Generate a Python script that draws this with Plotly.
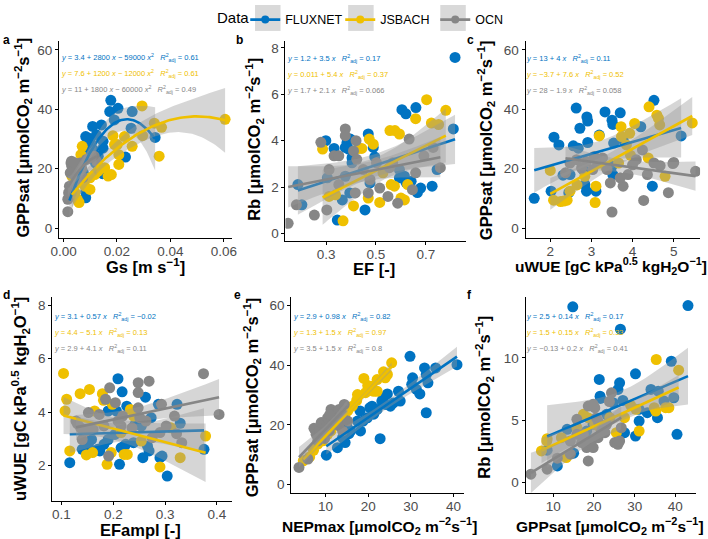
import numpy as np
import plotly.graph_objects as go

FONT = "Liberation Sans, Arial, sans-serif"
W, H = 708, 539
GROUPS = ["FLUXNET", "JSBACH", "OCN"]
COLORS = ["#0073C2", "#EFC000", "#868686"]
BAND = "rgba(153,153,153,0.4)"

# ---- panel a : Gs vs GPPsat (quadratic fits)
a_flux_x = [0.0177, 0.0173, 0.0204, 0.0257, 0.019, 0.0109, 0.0142, 0.0083, 0.0093, 0.0123, 0.0253, 0.0102, 0.0086,
            0.0111, 0.0148, 0.0148, 0.0130, 0.0093, 0.0074, 0.0120, 0.0232, 0.0343, 0.0146, 0.0083, 0.0083, 0.0062,
            0.0056, 0.0043, 0.0074, 0.0031, 0.0115, 0.0101, 0.0022]
a_flux_y = [43, 39.2, 40.3, 39.2, 36.4, 34.2, 34.7, 30.8, 30.3, 31.4, 33.6, 28.6, 28.1, 26.4, 26.9, 29.2, 24.2, 25.3,
            22.5, 21.9, 23.9, 30.5, 18.3, 12.2, 10.2, 19.7, 17.5, 15.8, 18.6, 14.1, 23.6, 26.4, 11.5]
a_jsb_x = [0.0294, 0.0605, 0.034, 0.0367, 0.0296, 0.0228, 0.0185, 0.0191, 0.0201, 0.0257, 0.0207, 0.0358, 0.0207,
           0.0154, 0.0179, 0.013, 0.0117, 0.0099, 0.0074, 0.0070, 0.0065, 0.0058, 0.0051, 0.0043, 0.0099, 0.0031,
           0.008, 0.0167]
a_jsb_y = [41.1, 36.6, 35.3, 33.9, 31.1, 30.8, 31.1, 28.1, 28.1, 27.5, 24.7, 24.2, 21.4, 20.3, 18.0, 19.2, 18.0, 16.9,
           16.4, 27.5, 24.7, 8.6, 9.7, 11.9, 13.0, 17.5, 14.1, 17.5]
a_ocn_x = [0.0016, 0.0016, 0.0019, 0.0022, 0.0028, 0.0031, 0.0037, 0.0043, 0.0025, 0.0043, 0.0056, 0.005, 0.0062,
           0.0086, 0.0115, 0.0123, 0.003, 0.0035, 0.004, 0.0068, 0.0072, 0.0048]
a_ocn_y = [5.5, 9.7, 11.9, 14.1, 21.9, 20.8, 21.9, 19.7, 18.6, 17.5, 18.6, 20.8, 21.9, 23.1, 24.2, 22.5, 22.5, 19.0,
           22.0, 20.0, 17.0, 16.0]
a_coef = [[3.4, 2800, -59000], [7.6, 1200, -12000], [11, 1800, -60000]]
a_eq = ["<i>y</i> = 3.4 + 2800 <i>x</i> − 59000 <i>x</i><sup>2</sup>", "<i>y</i> = 7.6 + 1200 <i>x</i> − 12000 <i>x</i><sup>2</sup>",
        "<i>y</i> = 11 + 1800 <i>x</i> − 60000 <i>x</i><sup>2</sup>"]
a_r2 = ["0.61", "0.61", "0.49"]

# ---- panel b : EF vs Rb
b_flux_x = [0.817, 0.604, 0.620, 0.660, 0.299, 0.332, 0.377, 0.384, 0.397, 0.469, 0.404, 0.390, 0.489, 0.495, 0.594,
            0.614, 0.641, 0.620, 0.594, 0.679, 0.666, 0.725, 0.745, 0.810, 0.377, 0.395, 0.365, 0.305, 0.345, 0.456,
            0.187, 0.203, 0.476, 0.404]
b_flux_y = [7.59, 5.34, 5.16, 5.43, 4.0, 3.67, 3.71, 3.93, 4.07, 4.29, 3.27, 3.64, 3.71, 3.30, 2.76, 2.47, 2.25, 2.21,
            2.40, 1.96, 1.77, 2.04, 2.76, 4.51, 2.47, 1.75, 1.45, 2.4, 0.58, 1.02, 2.11, 1.24, 2.18, 3.05]
b_jsb_x = [0.703, 0.780, 0.659, 0.722, 0.751, 0.556, 0.576, 0.594, 0.473, 0.489, 0.430, 0.443, 0.286, 0.561, 0.574,
           0.627, 0.600, 0.614, 0.515, 0.469, 0.410, 0.368, 0.338, 0.312, 0.528]
b_jsb_y = [5.77, 5.31, 4.95, 4.76, 4.70, 4.44, 4.44, 4.29, 4.07, 3.85, 3.67, 3.67, 3.64, 2.11, 2.04, 2.11, 1.53, 1.45,
           1.34, 1.53, 1.19, 0.55, 1.67, 1.60, 2.62]
b_ocn_x = [0.148, 0.181, 0.253, 0.303, 0.279, 0.332, 0.351, 0.377, 0.377, 0.410, 0.420, 0.423, 0.449, 0.351, 0.417,
           0.469, 0.476, 0.515, 0.548, 0.587, 0.567, 0.646, 0.659, 0.692, 0.729, 0.758, 0.633, 0.554, 0.312, 0.502]
b_ocn_y = [0.44, 1.24, 0.80, 1.02, 3.93, 3.35, 3.35, 4.51, 4.22, 3.56, 4.0, 3.20, 2.76, 2.11, 1.75, 1.75, 2.33, 1.96,
           1.60, 1.31, 3.05, 1.89, 2.62, 3.35, 3.71, 2.84, 4.07, 2.84, 2.76, 3.05]
b_coef = [[1.2, 3.5], [0.011, 5.4], [1.7, 2.1]]
b_eq = ["<i>y</i> = 1.2 + 3.5 <i>x</i>", "<i>y</i> = 0.011 + 5.4 <i>x</i>", "<i>y</i> = 1.7 + 2.1 <i>x</i>"]
b_r2 = ["0.17", "0.37", "0.066"]

# ---- panel c : uWUE vs GPPsat
c_flux_x = [1.61, 2.09, 2.02, 2.31, 2.48, 2.45, 2.56, 2.63, 2.68, 2.72, 2.89, 2.91, 2.91, 2.80, 2.84, 2.88, 3.11, 3.19,
            3.33, 3.50, 3.52, 3.54, 3.70, 3.77, 3.50, 3.52, 4.20, 4.52, 4.48, 5.18, 2.21]
c_flux_y = [10.0, 30.6, 12.4, 17.8, 18.0, 11.9, 27.7, 40.4, 26.9, 33.6, 37.4, 36.0, 28.8, 19.7, 14.7, 12.4, 12.4, 31.3,
            39.1, 36.3, 34.9, 28.6, 38.8, 29.7, 20.8, 18.0, 34.1, 43.0, 14.1, 31.0, 28.0]
c_jsb_x = [2.0, 2.08, 2.25, 2.33, 2.41, 2.48, 2.84, 3.09, 3.11, 3.19, 3.72, 3.73, 3.85, 3.93, 4.05, 4.40, 4.59, 4.63,
           4.66, 4.38, 5.45, 4.79, 3.66, 3.35, 2.65, 3.95]
c_jsb_y = [19.4, 9.4, 8.9, 9.1, 9.4, 12.4, 17.4, 8.6, 14.1, 31.0, 34.1, 30.8, 28.0, 31.9, 35.2, 40.8, 38.0, 36.9, 34.7,
           23.6, 35.4, 17.4, 21.9, 20.5, 14.5, 24.5]
c_ocn_x = [3.50, 4.27, 4.87, 4.67, 4.98, 5.0, 5.53, 4.36, 4.24, 4.0, 3.89, 3.77, 3.70, 3.46, 3.38, 3.27, 3.15, 3.07,
           3.03, 2.88, 2.76, 2.64, 2.48, 2.37, 4.09, 4.52]
c_ocn_y = [5.4, 9.3, 11.9, 21.0, 21.7, 22.1, 19.1, 18.0, 26.3, 21.3, 18.0, 14.1, 16.9, 15.2, 19.7, 23.6, 21.9, 24.1,
           19.7, 22.4, 20.2, 23.0, 21.9, 18.6, 23.0, 21.9]
c_coef = [[13, 4], [-3.7, 7.6], [28, -1.9]]
c_eq = ["<i>y</i> = 13 + 4 <i>x</i>", "<i>y</i> = −3.7 + 7.6 <i>x</i>", "<i>y</i> = 28 − 1.9 <i>x</i>"]
c_r2 = ["0.11", "0.52", "0.058"]

# ---- panel d : EFampl vs uWUE
d_flux_x = [0.116, 0.14, 0.152, 0.158, 0.170, 0.174, 0.182, 0.190, 0.190, 0.206, 0.209, 0.217, 0.212, 0.215, 0.221,
            0.224, 0.226, 0.239, 0.242, 0.248, 0.254, 0.257, 0.262, 0.266, 0.269, 0.273, 0.287, 0.29, 0.294, 0.304,
            0.323, 0.329, 0.375, 0.203]
d_flux_y = [2.1, 2.6, 2.72, 2.97, 2.6, 2.54, 2.79, 4.04, 2.97, 4.04, 5.25, 4.76, 2.04, 2.66, 2.72, 2.79, 4.22, 2.85,
            3.54, 3.54, 3.47, 2.29, 4.56, 2.72, 2.54, 3.79, 4.29, 2.29, 2.35, 1.6, 4.29, 3.58, 2.6, 3.16]
d_jsb_x = [0.104, 0.110, 0.107, 0.116, 0.136, 0.154, 0.148, 0.160, 0.164, 0.179, 0.181, 0.188, 0.196, 0.198, 0.215,
           0.221, 0.227, 0.233, 0.239, 0.254, 0.29, 0.311, 0.329, 0.378]
d_jsb_y = [5.45, 4.48, 4.04, 2.54, 4.69, 4.85, 2.39, 2.48, 4.04, 4.69, 4.44, 2.04, 2.48, 4.29, 3.23, 2.41, 2.41, 4.1,
           3.85, 2.91, 1.94, 3.41, 2.29, 3.1]
d_ocn_x = [0.374, 0.404, 0.248, 0.248, 0.269, 0.293, 0.318, 0.322, 0.332, 0.193, 0.185, 0.204, 0.209, 0.218, 0.215,
           0.191, 0.152, 0.137, 0.131, 0.128, 0.140, 0.148, 0.161, 0.173, 0.182, 0.236, 0.248, 0.263, 0.275, 0.290,
           0.302, 0.251]
d_ocn_y = [5.44, 3.91, 5.1, 4.73, 5.16, 4.29, 3.85, 3.19, 2.85, 4.91, 4.48, 4.35, 3.66, 3.85, 3.48, 2.35, 3.98, 3.41,
           3.56, 3.66, 2.97, 3.29, 3.35, 3.91, 3.48, 3.41, 4.16, 3.66, 3.04, 3.23, 3.48, 3.79]
d_coef = [[3.1, 0.57], [4.4, -5.1], [2.9, 4.1]]
d_eq = ["<i>y</i> = 3.1 + 0.57 <i>x</i>", "<i>y</i> = 4.4 − 5.1 <i>x</i>", "<i>y</i> = 2.9 + 4.1 <i>x</i>"]
d_r2 = ["−0.02", "0.13", "0.11"]

# ---- panel e : NEPmax vs GPPsat
e_flux_x = [10.2, 12.8, 15.0, 15.5, 14.6, 15.9, 18.1, 18.2, 18.8, 20.4, 20.9, 21.3, 22.1, 22.8, 23.2, 23.6, 24.0, 24.5,
            25.2, 25.9, 27.1, 27.5, 29.8, 30.4, 30.2, 31.3, 32.1, 33.6, 33.2, 33.6, 34.0, 40.8, 35.8, 19.8, 17.5, 14.0]
e_flux_y = [9.9, 12.4, 19.7, 17.1, 14.1, 18.0, 24.7, 18.0, 21.3, 25.8, 26.3, 23.6, 25.2, 15.4, 28.0, 29.1, 26.9, 30.4,
            26.3, 27.4, 31.3, 28.0, 43.0, 35.8, 33.6, 31.9, 30.4, 24.1, 39.1, 36.9, 34.1, 40.2, 39.1, 22.4, 21.3, 15.8]
e_jsb_x = [4.8, 6.3, 8.2, 9.4, 10.5, 11.3, 12.8, 15.2, 16.3, 17.3, 19.0, 19.4, 19.9, 20.9, 21.3, 22.1, 23.6, 24.0, 24.5,
           25.5, 22.1, 17.5, 7.2, 13.8]
e_jsb_y = [8.0, 9.3, 13.6, 14.7, 16.9, 18.0, 21.3, 24.7, 26.3, 28.2, 35.6, 30.8, 33.2, 33.0, 31.3, 31.3, 37.8, 35.8,
           36.9, 40.8, 35.2, 30.2, 11.5, 22.5]
e_ocn_x = [3.8, 5.9, 7.3, 7.8, 8.6, 8.2, 9.0, 9.4, 10.2, 10.5, 11.3, 11.7, 12.1, 12.5, 13.2, 13.2, 13.6, 14.2, 14.4,
           15.2, 14.0, 10.9, 12.8, 11.0, 9.8, 13.8]
e_ocn_y = [5.8, 8.6, 18.9, 16.9, 18.0, 14.7, 20.8, 17.1, 19.7, 22.4, 25.2, 20.2, 24.1, 22.4, 25.2, 19.7, 23.6, 21.9,
           26.9, 21.3, 18.0, 18.0, 21.0, 23.5, 15.5, 24.0]
e_coef = [[2.9, 0.98], [1.3, 1.5], [3.5, 1.5]]
e_eq = ["<i>y</i> = 2.9 + 0.98 <i>x</i>", "<i>y</i> = 1.3 + 1.5 <i>x</i>", "<i>y</i> = 3.5 + 1.5 <i>x</i>"]
e_r2 = ["0.82", "0.97", "0.8"]

# ---- panel f : GPPsat vs Rb
f_flux_x = [14.8, 43.1, 26.5, 21.3, 26.3, 25.9, 30.2, 39.0, 21.5, 21.6, 24.7, 27.1, 31.1, 34.0, 35.8, 37.2, 39.6, 33.1,
            35.6, 31.1, 27.5, 30.2, 40.4, 8.5, 11.0, 15.0, 18.2, 19.8, 23.1, 13.4]
f_flux_y = [14.1, 14.2, 12.3, 8.27, 8.0, 7.47, 8.72, 9.73, 6.93, 6.75, 6.4, 6.59, 5.87, 7.47, 7.33, 6.53, 6.8, 5.6, 5.2,
            4.93, 4.0, 3.73, 3.87, 2.59, 1.33, 2.35, 4.13, 4.67, 5.47, 4.27]
f_jsb_x = [35.3, 40.8, 17.4, 8.4, 8.5, 7.1, 13.2, 20.2, 21.5, 23.9, 27.5, 30.3, 31.1, 34.8, 35.2, 37.6, 38.4, 15.8, 25.5,
           29.0, 12.0, 18.5]
f_jsb_y = [9.87, 9.01, 5.47, 3.33, 3.52, 2.53, 2.0, 4.67, 4.4, 5.2, 5.2, 5.87, 4.13, 6.0, 5.73, 6.0, 6.0, 4.4, 4.0, 6.2,
           3.6, 5.2]
f_ocn_x = [4.5, 8.5, 11.0, 18.6, 14.2, 15.8, 17.0, 18.2, 19.4, 19.8, 21.0, 21.9, 17.4, 18.6, 19.8, 20.2, 21.0, 22.7,
           23.1, 24.3, 25.1, 25.9, 26.3, 26.7, 15.8, 14.2, 20.6, 23.8]
f_ocn_y = [0.67, 1.07, 1.95, 1.73, 3.33, 3.87, 3.2, 2.8, 3.33, 2.8, 3.6, 4.13, 3.87, 6.13, 6.27, 6.0, 4.93, 4.0, 4.67,
           7.2, 3.2, 3.07, 3.33, 4.4, 5.07, 2.27, 5.2, 6.5]
f_coef = [[2.5, 0.14], [1.5, 0.15], [-0.13, 0.2]]
f_eq = ["<i>y</i> = 2.5 + 0.14 <i>x</i>", "<i>y</i> = 1.5 + 0.15 <i>x</i>", "<i>y</i> = −0.13 + 0.2 <i>x</i>"]
f_r2 = ["0.17", "0.33", "0.41"]

# tick values
a_xticks, a_yticks = [0, 0.02, 0.04, 0.06], [0, 20, 40, 60]
b_xticks, b_yticks = [0.3, 0.5, 0.7], [0, 2, 4, 6, 8]
c_xticks, c_yticks = [2, 3, 4, 5], [0, 20, 40, 60]
d_xticks, d_yticks = [0.1, 0.2, 0.3, 0.4], [2, 4, 6, 8]
e_xticks, e_yticks = [10, 20, 30, 40], [0, 20, 40, 60]
f_xticks, f_yticks = [10, 20, 30, 40], [0, 5, 10]

GPP = "GPPsat [μmolCO<sub>2</sub> m<sup>−2</sup>s<sup>−1</sup>]"
RB = "Rb [μmolCO<sub>2</sub> m<sup>−2</sup>s<sup>−1</sup>]"
UWUE = "uWUE [gC kPa<sup>0.5</sup> kgH<sub>2</sub>O<sup>−1</sup>]"

panels = [
    dict(tag="a", data=[(a_flux_x, a_flux_y), (a_jsb_x, a_jsb_y), (a_ocn_x, a_ocn_y)], coef=a_coef, eq=a_eq, r2=a_r2,
         box=(51, 227, 41, 238), xr=[-0.0017, 0.0629], yr=[-3.2, 63], xt=a_xticks, yt=a_yticks, xfmt=".2f",
         xtitle="Gs [m s<sup>−1</sup>]", xs=16.5, ytitle=GPP, xtpos=(139, 266), ytpos=(14, 138), eqpos=(51, 58),
         lpos=(-8, 40)),
    dict(tag="b", data=[(b_flux_x, b_flux_y), (b_jsb_x, b_jsb_y), (b_ocn_x, b_ocn_y)], coef=b_coef, eq=b_eq, r2=b_r2,
         box=(282, 466, 41, 241), xr=[0.137, 0.86], yr=[-0.3, 8.3], xt=b_xticks, yt=b_yticks, xfmt=".1f",
         xtitle="EF [-]", xs=16.5, ytitle=RB, xtpos=(372, 270), ytpos=(250, 140), eqpos=(282, 59), lpos=(230, 40)),
    dict(tag="c", data=[(c_flux_x, c_flux_y), (c_jsb_x, c_jsb_y), (c_ocn_x, c_ocn_y)], coef=c_coef, eq=c_eq, r2=c_r2,
         box=(527, 705, 41, 238), xr=[1.4, 5.64], yr=[-3.2, 63], xt=c_xticks, yt=c_yticks, xfmt="",
         xtitle=UWUE, xs=15.5, ytitle=GPP, xtpos=(614, 266), ytpos=(486, 140), eqpos=(525, 59), lpos=(465, 40)),
    dict(tag="d", data=[(d_flux_x, d_flux_y), (d_jsb_x, d_jsb_y), (d_ocn_x, d_ocn_y)], coef=d_coef, eq=d_eq, r2=d_r2,
         box=(44, 227, 298, 502), xr=[0.082, 0.428], yr=[0.66, 8.3], xt=d_xticks, yt=d_yticks, xfmt=".1f",
         xtitle="EFampl [-]", xs=16.5, ytitle=UWUE, xtpos=(134, 531), ytpos=(12, 400), eqpos=(44, 317),
         lpos=(-8, 296)),
    dict(tag="e", data=[(e_flux_x, e_flux_y), (e_jsb_x, e_jsb_y), (e_ocn_x, e_ocn_y)], coef=e_coef, eq=e_eq, r2=e_r2,
         box=(288, 464, 298, 494), xr=[2.0, 42.4], yr=[-2.8, 62.7], xt=e_xticks, yt=e_yticks, xfmt="",
         xtitle="NEPmax [μmolCO<sub>2</sub> m<sup>−2</sup>s<sup>−1</sup>]", xs=15.5, ytitle=GPP, xtpos=(378, 527),
         ytpos=(248, 398), eqpos=(288, 317), lpos=(228, 296)),
    dict(tag="f", data=[(f_flux_x, f_flux_y), (f_jsb_x, f_jsb_y), (f_ocn_x, f_ocn_y)], coef=f_coef, eq=f_eq, r2=f_r2,
         box=(527, 701, 298, 494), xr=[3.2, 45.1], yr=[-0.85, 14.85], xt=f_xticks, yt=f_yticks, xfmt="",
         xtitle=GPP, xs=15.5, ytitle=RB, xtpos=(613, 527), ytpos=(485, 398), eqpos=(525, 317), lpos=(465, 296)),
]


def fit_band(x, y, coef, n=80):
    # fitted curve from the reported coefficients + 95% confidence band
    x, y, coef = np.asarray(x, float), np.asarray(y, float), np.asarray(coef, float)
    X = np.vander(x, len(coef), increasing=True)
    dof = len(x) - len(coef)
    resid = y - X @ coef
    s2 = resid @ resid / dof
    xg = np.linspace(x.min(), x.max(), n)
    G = np.vander(xg, len(coef), increasing=True)
    yg = G @ coef
    cov = np.linalg.inv(X.T @ X)
    se = np.sqrt(s2 * np.einsum("ij,jk,ik->i", G, cov, G))
    t = 1.96 + 2.4 / dof
    return xg, yg, yg - t * se, yg + t * se


fig = go.Figure()
annotations = []
for i, p in enumerate(panels, start=1):
    xa, ya = f"x{i}", f"y{i}"
    for (x, y), col in zip(p["data"], COLORS):
        fig.add_trace(go.Scatter(x=x, y=y, mode="markers", xaxis=xa, yaxis=ya, showlegend=False,
                                 marker=dict(color=col, size=11, line=dict(width=0))))
    for (x, y), coef, col in zip(p["data"], p["coef"], COLORS):
        xg, yg, lo, hi = fit_band(x, y, coef)
        fig.add_trace(go.Scatter(x=np.concatenate([xg, xg[::-1]]), y=np.concatenate([hi, lo[::-1]]),
                                 fill="toself", fillcolor=BAND, line=dict(width=0), mode="lines",
                                 xaxis=xa, yaxis=ya, showlegend=False, hoverinfo="skip"))
        fig.add_trace(go.Scatter(x=xg, y=yg, mode="lines", line=dict(color=col, width=2.6),
                                 xaxis=xa, yaxis=ya, showlegend=False))

    l, r, t, b = p["box"]
    ax = dict(showline=True, linecolor="black", linewidth=1, ticks="outside", ticklen=3, tickcolor="black",
              tickwidth=1, showgrid=False, zeroline=False,
              tickfont=dict(family=FONT, size=13.5, color="#4D4D4D"))
    fig.layout[f"xaxis{i}"] = dict(ax, domain=[l / W, r / W], range=p["xr"], tickvals=p["xt"],
                                   tickformat=p["xfmt"], anchor=ya, ticklabelstandoff=-2)
    fig.layout[f"yaxis{i}"] = dict(ax, domain=[1 - b / H, 1 - t / H], range=p["yr"], tickvals=p["yt"], anchor=xa)

    # panel letter
    annotations.append(dict(text=f"<b>{p['tag']}</b>", x=p["lpos"][0] / W, y=1 - p["lpos"][1] / H,
                            xref="paper", yref="paper", xanchor="left", yanchor="middle",
                            showarrow=False, font=dict(family=FONT, size=12, color="black")))
    # axis titles
    annotations.append(dict(text=f"<b>{p['xtitle']}</b>", x=p["xtpos"][0] / W, y=1 - p["xtpos"][1] / H,
                            xref="paper", yref="paper", showarrow=False, xanchor="center", yanchor="middle",
                            font=dict(family=FONT, size=p["xs"], color="black")))
    annotations.append(dict(text=f"<b>{p['ytitle']}</b>", x=p["ytpos"][0] / W, y=1 - p["ytpos"][1] / H,
                            xref="paper", yref="paper", showarrow=False, xanchor="center", yanchor="middle",
                            textangle=-90, font=dict(family=FONT, size=16.5, color="black")))
    # regression equations
    ex, ey = p["eqpos"]
    for k, (eq, r2, col) in enumerate(zip(p["eq"], p["r2"], COLORS)):
        annotations.append(dict(text=eq + "\u00a0\u00a0\u00a0<i>R</i><sup>2</sup><sub>adj</sub> = " + r2,
                                x=ex / W, y=1 - (ey + 16 * k) / H, xref="paper", yref="paper", showarrow=False,
                                xanchor="left", yanchor="middle", font=dict(family=FONT, size=7.5, color=col)))

# legend title as a separate label
annotations.append(dict(text="Data", x=229 / W, y=1 - 18 / H, xref="paper", yref="paper", showarrow=False,
                        xanchor="center", yanchor="middle", font=dict(family=FONT, size=15, color="black")))

# legend entries
for g, col in zip(GROUPS, COLORS):
    fig.add_trace(go.Scatter(x=[None], y=[None], mode="lines+markers", name=g, xaxis="x1", yaxis="y1",
                             line=dict(color=col, width=2.6), marker=dict(color=col, size=8)))

shapes = [dict(type="rect", xref="paper", yref="paper", x0=(bx - 13) / W, x1=(bx + 13) / W, y0=1 - 31 / H,
               y1=1 - 5 / H, fillcolor="#D9D9D9", line=dict(width=0), layer="above") for bx in (264, 359, 453)]

fig.update_layout(
    width=W, height=H, margin=dict(l=0, r=0, t=0, b=0),
    paper_bgcolor="white", plot_bgcolor="white",
    font=dict(family=FONT, color="black"),
    annotations=annotations, shapes=shapes,
    legend=dict(orientation="h", x=241 / W, xanchor="left", y=1 - 5 / H, yanchor="top", bgcolor="rgba(0,0,0,0)",
                font=dict(family=FONT, size=12.5), itemwidth=30, entrywidth=50),
)

fig.write_html("out.html", config={"displayModeBar": False},
               post_script="document.body.style.margin='0px';")
